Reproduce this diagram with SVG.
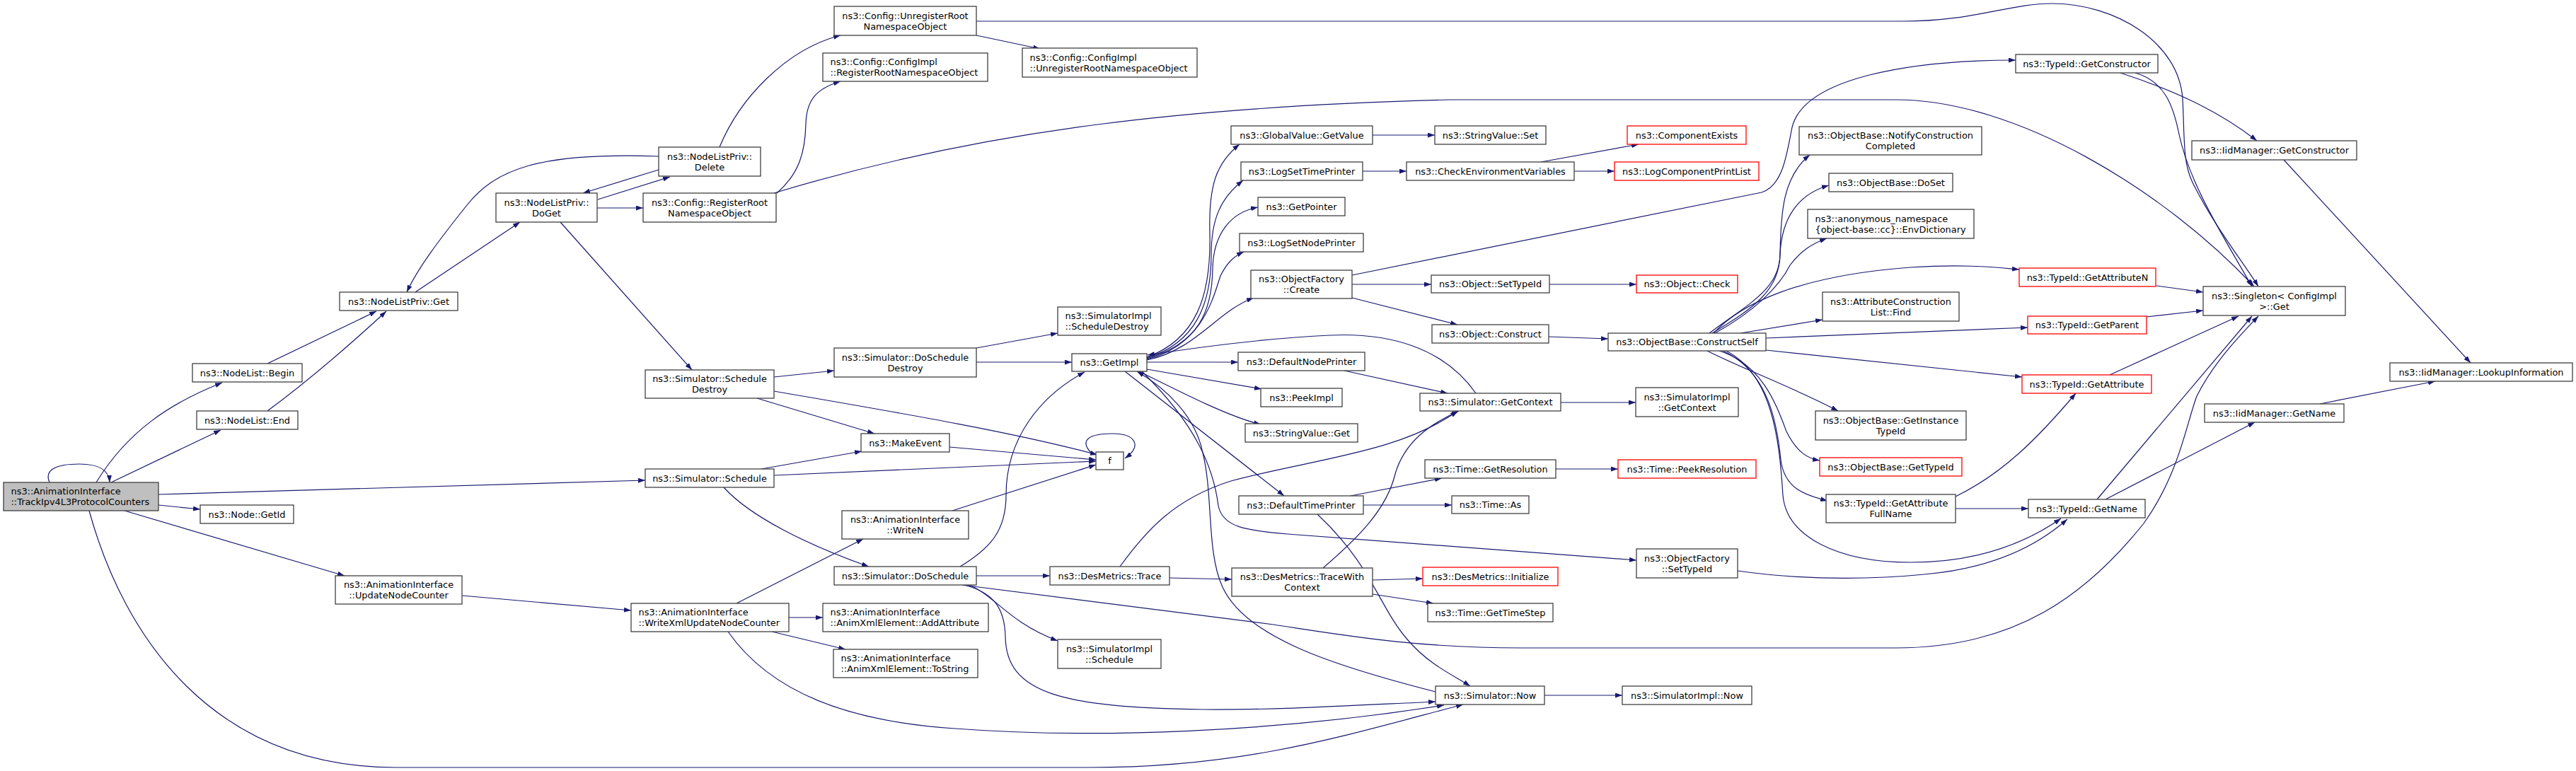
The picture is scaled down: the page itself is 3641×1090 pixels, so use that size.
<svg xmlns="http://www.w3.org/2000/svg" width="3641" height="1090" viewBox="0 0 3641 1090">
<style>
.n rect{fill:#fff;stroke:#404040;stroke-width:1.3}
.n.red rect{stroke:#ff0000}
.n.root rect{fill:#bfbfbf}
text{font-family:"DejaVu Sans","Liberation Sans",sans-serif;font-size:12.9px;fill:#000}
.c{text-anchor:middle}
#edges path{fill:none;stroke:#191970;stroke-width:1.2;marker-end:url(#a)}
</style>
<defs>
<marker id="a" viewBox="0 0 10 7" refX="10" refY="3.5" markerWidth="10" markerHeight="7" markerUnits="userSpaceOnUse" orient="auto"><path d="M0,0L10,3.5L0,7z" fill="#191970"/></marker>
</defs>
<rect width="3641" height="1090" fill="#fff"/>
<g id="edges">
<path d="M70,682 C62,664 80,656 112,656 C140,656 154,664 155,682"/>
<path d="M136,682 C180,610 240,570 314,541"/>
<path d="M157,682 L312,608"/>
<path d="M224,699 L912,679"/>
<path d="M224,714 L283,720"/>
<path d="M176,722 L487,814"/>
<path d="M126,722 C175,900 300,1085 560,1085 L1540,1085 C1760,1085 1900,1040 2068,996"/>
<path d="M378,514 L532,440"/>
<path d="M378,581 C420,550 470,510 546,440"/>
<path d="M587,413 L735,314"/>
<path d="M931,221 C760,215 700,240 660,290 C620,340 590,380 575,413"/>
<path d="M931,240 L824,273"/>
<path d="M845,282 L947,250"/>
<path d="M844,294 L909,294"/>
<path d="M792,314 L978,523"/>
<path d="M1017,208 C1045,140 1110,70 1188,50"/>
<path d="M1098,273 C1130,245 1138,215 1139,175 C1140,140 1155,125 1188,115"/>
<path d="M1094,273 C1400,180 1700,150 2050,141 L2680,141 C2850,141 3060,270 3186,405"/>
<path d="M1380,50 L1470,69"/>
<path d="M1380,30 L2690,30 C2790,30 2840,5 2900,5 C2990,5 3080,60 3085,140 C3088,200 3085,230 3100,260 C3130,320 3170,370 3192,405"/>
<path d="M2997,103 C3080,130 3140,160 3190,199"/>
<path d="M3018,103 C3060,115 3072,150 3080,190 C3095,260 3140,330 3183,405"/>
<path d="M3228,226 L3492,513"/>
<path d="M1911,389 L2490,272 C2520,262 2525,220 2533,180 C2550,110 2700,85 2849,85"/>
<path d="M1621,505 C1690,480 1712,420 1710,330 C1708,260 1720,230 1752,204"/>
<path d="M1621,506 C1690,485 1712,430 1712,360 C1712,310 1725,280 1757,255"/>
<path d="M1621,507 C1695,485 1713,440 1714,380 C1715,330 1740,300 1778,293"/>
<path d="M1621,508 C1700,488 1715,420 1725,390 C1735,370 1745,362 1758,356"/>
<path d="M1621,509 C1690,495 1720,440 1772,421"/>
<path d="M1621,512 L1750,512"/>
<path d="M1621,522 L1783,550"/>
<path d="M1610,525 C1680,560 1740,590 1782,600"/>
<path d="M1590,525 L1815,701"/>
<path d="M1614,525 C1690,600 1715,660 1722,715 C1728,745 1760,750 1820,755 L2313,792"/>
<path d="M2029,978 C1880,940 1760,900 1728,830 C1705,780 1715,700 1700,640 C1690,590 1650,550 1607,525"/>
<path d="M2086,556 C2040,490 1960,470 1880,474 C1790,478 1700,490 1622,502"/>
<path d="M1357,801 C1400,775 1422,750 1422,700 C1422,620 1470,560 1533,526"/>
<path d="M1380,512 L1515,512"/>
<path d="M1380,492 L1495,471"/>
<path d="M1094,533 L1179,524"/>
<path d="M1070,563 L1236,613"/>
<path d="M1094,553 C1250,580 1430,610 1551,643"/>
<path d="M1076,663 L1218,638"/>
<path d="M1094,672 L1549,652"/>
<path d="M1342,632 L1549,650"/>
<path d="M1542,640 C1525,622 1540,613 1572,613 C1605,613 1615,630 1590,648"/>
<path d="M1346,722 L1549,657"/>
<path d="M1041,853 L1220,762"/>
<path d="M1115,873 L1163,873"/>
<path d="M1091,893 L1195,918"/>
<path d="M1029,893 C1090,980 1200,1020 1350,1030 C1550,1045 1800,1035 2041,997"/>
<path d="M653,842 L892,863"/>
<path d="M1023,689 C1060,730 1140,770 1228,801"/>
<path d="M1380,814 L1484,814"/>
<path d="M1653,817 L1741,819"/>
<path d="M1369,827 C1405,840 1425,880 1495,906"/>
<path d="M1363,827 C1405,838 1420,860 1421,900 C1422,980 1500,1000 1700,1003 C1800,1004 1900,998 2029,992"/>
<path d="M1360,827 L1800,883 C1900,898 2000,916 2150,916 L2680,916 C2850,916 2950,840 3030,740 C3080,670 3090,600 3105,560 C3130,510 3170,470 3192,447"/>
<path d="M1583,801 C1620,750 1660,705 1740,680 C1850,650 1980,640 2060,581"/>
<path d="M1870,803 C1920,760 1960,720 1972,670 C1985,625 2020,600 2062,581"/>
<path d="M1862,727 C1940,800 1950,860 1990,905 C2020,940 2055,955 2078,970"/>
<path d="M1911,402 L2023,402"/>
<path d="M1911,421 L2060,459"/>
<path d="M2190,402 L2313,402"/>
<path d="M2189,476 L2273,479"/>
<path d="M1900,524 L2046,556"/>
<path d="M2206,569 L2312,569"/>
<path d="M1909,701 L2038,676"/>
<path d="M1927,714 L2052,714"/>
<path d="M2199,663 L2287,663"/>
<path d="M1940,820 L2011,818"/>
<path d="M1940,840 L2026,853"/>
<path d="M2183,983 L2293,983"/>
<path d="M2178,229 L2316,204"/>
<path d="M2225,242 L2282,242"/>
<path d="M1926,242 L1988,242"/>
<path d="M1940,191 L2028,191"/>
<path d="M2460,471 L2576,452"/>
<path d="M2422,471 C2460,430 2540,390 2700,378 C2780,373 2820,378 2854,381"/>
<path d="M2496,478 L2866,463"/>
<path d="M2496,495 L2858,533"/>
<path d="M2413,496 C2460,520 2540,550 2598,581"/>
<path d="M2430,496 C2490,515 2510,570 2525,610 C2540,640 2555,648 2572,651"/>
<path d="M2435,496 C2500,525 2512,600 2517,650 C2522,690 2550,700 2583,708"/>
<path d="M2440,496 C2505,530 2515,620 2520,700 C2525,760 2600,795 2700,795 C2790,795 2860,770 2913,733"/>
<path d="M2456,807 C2560,822 2660,818 2720,812 C2800,805 2870,780 2922,734"/>
<path d="M2416,471 C2470,430 2515,410 2516,360 C2517,300 2520,250 2558,219"/>
<path d="M2420,471 C2480,435 2515,410 2516,360 C2518,310 2540,275 2585,262"/>
<path d="M2424,471 C2480,440 2515,405 2530,375 C2545,355 2560,345 2582,337"/>
<path d="M3048,404 L3114,413"/>
<path d="M3034,448 L3114,439"/>
<path d="M2982,530 L3164,447"/>
<path d="M2964,706 L3183,447"/>
<path d="M2976,706 L3187,597"/>
<path d="M3279,571 L3442,539"/>
<path d="M2764,719 L2867,719"/>
<path d="M2764,702 C2830,670 2880,620 2934,556"/>
</g>
<g id="track" class="n root"><rect x="5" y="682" width="219" height="40"/><text x="15.5" y="699">ns3::AnimationInterface</text><text x="15.5" y="714">::TrackIpv4L3ProtocolCounters</text></g>
<g id="begin" class="n"><rect x="272" y="514" width="155" height="26"/><text class="c" x="349.5" y="531.5">ns3::NodeList::Begin</text></g>
<g id="end" class="n"><rect x="278" y="581" width="143" height="26"/><text class="c" x="349.5" y="598.5">ns3::NodeList::End</text></g>
<g id="getid" class="n"><rect x="283" y="714" width="132" height="26"/><text class="c" x="349" y="731.5">ns3::Node::GetId</text></g>
<g id="update" class="n"><rect x="474" y="814" width="179" height="40"/><text class="c" x="563.5" y="831">ns3::AnimationInterface</text><text class="c" x="563.5" y="846">::UpdateNodeCounter</text></g>
<g id="nlpget" class="n"><rect x="480" y="413" width="167" height="26"/><text class="c" x="563.5" y="430.5">ns3::NodeListPriv::Get</text></g>
<g id="doget" class="n"><rect x="701" y="273" width="143" height="41"/><text class="c" x="772.5" y="290.5">ns3::NodeListPriv::</text><text class="c" x="772.5" y="305.5">DoGet</text></g>
<g id="delete" class="n"><rect x="931" y="208" width="144" height="41"/><text class="c" x="1003" y="225.5">ns3::NodeListPriv::</text><text class="c" x="1003" y="240.5">Delete</text></g>
<g id="regroot" class="n"><rect x="909" y="273" width="188" height="41"/><text class="c" x="1003" y="290.5">ns3::Config::RegisterRoot</text><text class="c" x="1003" y="305.5">NamespaceObject</text></g>
<g id="schdestroy" class="n"><rect x="912" y="523" width="182" height="40"/><text class="c" x="1003" y="540">ns3::Simulator::Schedule</text><text class="c" x="1003" y="555">Destroy</text></g>
<g id="schedule" class="n"><rect x="912" y="663" width="182" height="26"/><text class="c" x="1003" y="680.5">ns3::Simulator::Schedule</text></g>
<g id="writexml" class="n"><rect x="892" y="853" width="223" height="40"/><text x="902.5" y="870">ns3::AnimationInterface</text><text x="902.5" y="885">::WriteXmlUpdateNodeCounter</text></g>
<g id="unreg" class="n"><rect x="1179" y="9" width="201" height="41"/><text class="c" x="1279.5" y="26.5">ns3::Config::UnregisterRoot</text><text class="c" x="1279.5" y="41.5">NamespaceObject</text></g>
<g id="cireg" class="n"><rect x="1163" y="75" width="233" height="40"/><text x="1173.5" y="92">ns3::Config::ConfigImpl</text><text x="1173.5" y="107">::RegisterRootNamespaceObject</text></g>
<g id="doschdestroy" class="n"><rect x="1179" y="492" width="201" height="41"/><text class="c" x="1279.5" y="509.5">ns3::Simulator::DoSchedule</text><text class="c" x="1279.5" y="524.5">Destroy</text></g>
<g id="makeevent" class="n"><rect x="1217" y="613" width="125" height="26"/><text class="c" x="1279.5" y="630.5">ns3::MakeEvent</text></g>
<g id="writen" class="n"><rect x="1190" y="722" width="179" height="40"/><text class="c" x="1279.5" y="739">ns3::AnimationInterface</text><text class="c" x="1279.5" y="754">::WriteN</text></g>
<g id="doschedule" class="n"><rect x="1179" y="801" width="201" height="26"/><text class="c" x="1279.5" y="818.5">ns3::Simulator::DoSchedule</text></g>
<g id="addattr" class="n"><rect x="1163" y="853" width="234" height="40"/><text x="1173.5" y="870">ns3::AnimationInterface</text><text x="1173.5" y="885">::AnimXmlElement::AddAttribute</text></g>
<g id="tostring" class="n"><rect x="1178" y="918" width="204" height="40"/><text x="1188.5" y="935">ns3::AnimationInterface</text><text x="1188.5" y="950">::AnimXmlElement::ToString</text></g>
<g id="ciunreg" class="n"><rect x="1445" y="68" width="247" height="41"/><text x="1455.5" y="85.5">ns3::Config::ConfigImpl</text><text x="1455.5" y="100.5">::UnregisterRootNamespaceObject</text></g>
<g id="sischdestroy" class="n"><rect x="1495" y="434" width="146" height="40"/><text x="1505.5" y="451">ns3::SimulatorImpl</text><text x="1505.5" y="466">::ScheduleDestroy</text></g>
<g id="getimpl" class="n"><rect x="1515" y="500" width="106" height="25"/><text class="c" x="1568" y="517">ns3::GetImpl</text></g>
<g id="f" class="n"><rect x="1549" y="639" width="39" height="25"/><text class="c" x="1568.5" y="656">f</text></g>
<g id="trace" class="n"><rect x="1484" y="801" width="169" height="26"/><text class="c" x="1568.5" y="818.5">ns3::DesMetrics::Trace</text></g>
<g id="sischedule" class="n"><rect x="1495" y="904" width="146" height="41"/><text class="c" x="1568" y="921.5">ns3::SimulatorImpl</text><text class="c" x="1568" y="936.5">::Schedule</text></g>
<g id="gvget" class="n"><rect x="1740" y="178" width="200" height="26"/><text class="c" x="1840" y="195.5">ns3::GlobalValue::GetValue</text></g>
<g id="logsettime" class="n"><rect x="1754" y="229" width="172" height="26"/><text class="c" x="1840" y="246.5">ns3::LogSetTimePrinter</text></g>
<g id="getpointer" class="n"><rect x="1778" y="279" width="123" height="26"/><text class="c" x="1839.5" y="296.5">ns3::GetPointer</text></g>
<g id="logsetnode" class="n"><rect x="1752" y="330" width="175" height="26"/><text class="c" x="1839.5" y="347.5">ns3::LogSetNodePrinter</text></g>
<g id="ofcreate" class="n"><rect x="1768" y="382" width="143" height="40"/><text class="c" x="1839.5" y="399">ns3::ObjectFactory</text><text class="c" x="1839.5" y="414">::Create</text></g>
<g id="defnode" class="n"><rect x="1750" y="498" width="179" height="26"/><text class="c" x="1839.5" y="515.5">ns3::DefaultNodePrinter</text></g>
<g id="peekimpl" class="n"><rect x="1782" y="549" width="115" height="26"/><text class="c" x="1839.5" y="566.5">ns3::PeekImpl</text></g>
<g id="svget" class="n"><rect x="1760" y="599" width="159" height="26"/><text class="c" x="1839.5" y="616.5">ns3::StringValue::Get</text></g>
<g id="deftime" class="n"><rect x="1751" y="701" width="176" height="26"/><text class="c" x="1839" y="718.5">ns3::DefaultTimePrinter</text></g>
<g id="tracewc" class="n"><rect x="1741" y="803" width="199" height="40"/><text class="c" x="1840.5" y="820">ns3::DesMetrics::TraceWith</text><text class="c" x="1840.5" y="835">Context</text></g>
<g id="svset" class="n"><rect x="2028" y="178" width="157" height="26"/><text class="c" x="2106.5" y="195.5">ns3::StringValue::Set</text></g>
<g id="checkenv" class="n"><rect x="1988" y="229" width="237" height="26"/><text class="c" x="2106.5" y="246.5">ns3::CheckEnvironmentVariables</text></g>
<g id="settypeid" class="n"><rect x="2023" y="389" width="167" height="25"/><text class="c" x="2106.5" y="406">ns3::Object::SetTypeId</text></g>
<g id="construct" class="n"><rect x="2024" y="459" width="165" height="26"/><text class="c" x="2106.5" y="476.5">ns3::Object::Construct</text></g>
<g id="getcontext" class="n"><rect x="2007" y="556" width="199" height="25"/><text class="c" x="2106.5" y="573">ns3::Simulator::GetContext</text></g>
<g id="getres" class="n"><rect x="2014" y="650" width="185" height="26"/><text class="c" x="2106.5" y="667.5">ns3::Time::GetResolution</text></g>
<g id="timeas" class="n"><rect x="2052" y="701" width="109" height="25"/><text class="c" x="2106.5" y="718">ns3::Time::As</text></g>
<g id="initialize" class="n red"><rect x="2011" y="802" width="191" height="26"/><text class="c" x="2106.5" y="819.5">ns3::DesMetrics::Initialize</text></g>
<g id="timestep" class="n"><rect x="2018" y="853" width="177" height="26"/><text class="c" x="2106.5" y="870.5">ns3::Time::GetTimeStep</text></g>
<g id="simnow" class="n"><rect x="2029" y="970" width="154" height="26"/><text class="c" x="2106" y="987.5">ns3::Simulator::Now</text></g>
<g id="compexists" class="n red"><rect x="2300" y="178" width="168" height="26"/><text class="c" x="2384" y="195.5">ns3::ComponentExists</text></g>
<g id="logcomp" class="n red"><rect x="2282" y="229" width="204" height="26"/><text class="c" x="2384" y="246.5">ns3::LogComponentPrintList</text></g>
<g id="objcheck" class="n red"><rect x="2313" y="389" width="143" height="25"/><text class="c" x="2384.5" y="406">ns3::Object::Check</text></g>
<g id="constructself" class="n"><rect x="2273" y="471" width="223" height="25"/><text class="c" x="2384.5" y="488">ns3::ObjectBase::ConstructSelf</text></g>
<g id="sigetcontext" class="n"><rect x="2312" y="548" width="145" height="41"/><text class="c" x="2384.5" y="565.5">ns3::SimulatorImpl</text><text class="c" x="2384.5" y="580.5">::GetContext</text></g>
<g id="peekres" class="n red"><rect x="2287" y="650" width="195" height="26"/><text class="c" x="2384.5" y="667.5">ns3::Time::PeekResolution</text></g>
<g id="ofsettypeid" class="n"><rect x="2313" y="776" width="143" height="41"/><text class="c" x="2384.5" y="793.5">ns3::ObjectFactory</text><text class="c" x="2384.5" y="808.5">::SetTypeId</text></g>
<g id="siminow" class="n"><rect x="2293" y="970" width="183" height="26"/><text class="c" x="2384.5" y="987.5">ns3::SimulatorImpl::Now</text></g>
<g id="notify" class="n"><rect x="2543" y="179" width="258" height="40"/><text class="c" x="2672" y="196">ns3::ObjectBase::NotifyConstruction</text><text class="c" x="2672" y="211">Completed</text></g>
<g id="doset" class="n"><rect x="2585" y="245" width="175" height="26"/><text class="c" x="2672.5" y="262.5">ns3::ObjectBase::DoSet</text></g>
<g id="envdict" class="n"><rect x="2555" y="296" width="235" height="41"/><text x="2565.5" y="313.5">ns3::anonymous_namespace</text><text x="2565.5" y="328.5">{object-base::cc}::EnvDictionary</text></g>
<g id="acfind" class="n"><rect x="2576" y="413" width="193" height="41"/><text class="c" x="2672.5" y="430.5">ns3::AttributeConstruction</text><text class="c" x="2672.5" y="445.5">List::Find</text></g>
<g id="getinsttid" class="n"><rect x="2566" y="581" width="213" height="41"/><text class="c" x="2672.5" y="598.5">ns3::ObjectBase::GetInstance</text><text class="c" x="2672.5" y="613.5">TypeId</text></g>
<g id="gettypeid" class="n red"><rect x="2572" y="647" width="201" height="26"/><text class="c" x="2672.5" y="664.5">ns3::ObjectBase::GetTypeId</text></g>
<g id="getattrfull" class="n"><rect x="2581" y="699" width="183" height="40"/><text class="c" x="2672.5" y="716">ns3::TypeId::GetAttribute</text><text class="c" x="2672.5" y="731">FullName</text></g>
<g id="tgetctor" class="n"><rect x="2849" y="77" width="201" height="26"/><text class="c" x="2949.5" y="94.5">ns3::TypeId::GetConstructor</text></g>
<g id="getattrn" class="n red"><rect x="2854" y="379" width="193" height="26"/><text class="c" x="2950.5" y="396.5">ns3::TypeId::GetAttributeN</text></g>
<g id="getparent" class="n red"><rect x="2866" y="447" width="168" height="25"/><text class="c" x="2950" y="464">ns3::TypeId::GetParent</text></g>
<g id="getattr" class="n red"><rect x="2858" y="530" width="183" height="26"/><text class="c" x="2949.5" y="547.5">ns3::TypeId::GetAttribute</text></g>
<g id="tgetname" class="n"><rect x="2867" y="706" width="165" height="26"/><text class="c" x="2949.5" y="723.5">ns3::TypeId::GetName</text></g>
<g id="singleton" class="n"><rect x="3114" y="405" width="201" height="41"/><text class="c" x="3214.5" y="422.5">ns3::Singleton&lt; ConfigImpl</text><text class="c" x="3214.5" y="437.5">&gt;::Get</text></g>
<g id="iidctor" class="n"><rect x="3098" y="199" width="233" height="27"/><text class="c" x="3214.5" y="217">ns3::IidManager::GetConstructor</text></g>
<g id="iidname" class="n"><rect x="3116" y="571" width="197" height="26"/><text class="c" x="3214.5" y="588.5">ns3::IidManager::GetName</text></g>
<g id="lookup" class="n"><rect x="3378" y="513" width="258" height="26"/><text class="c" x="3507" y="530.5">ns3::IidManager::LookupInformation</text></g>
</svg>
